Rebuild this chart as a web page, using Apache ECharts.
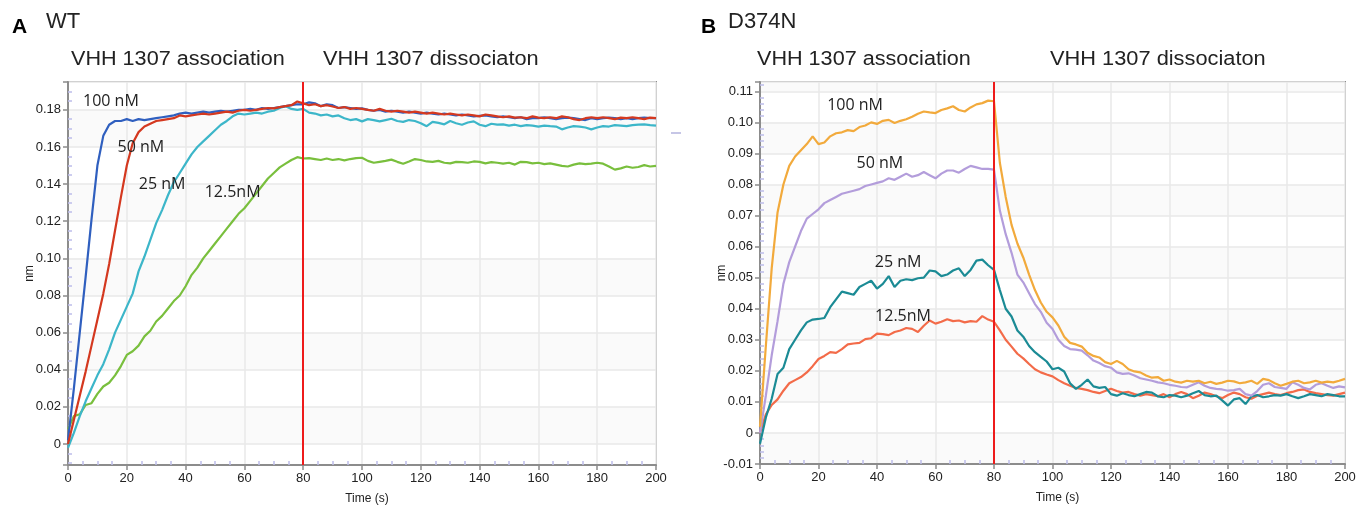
<!DOCTYPE html>
<html>
<head>
<meta charset="utf-8">
<script src="https://cdn.jsdelivr.net/npm/echarts@6/dist/echarts.min.js"></script>
<style>
html,body{margin:0;padding:0;background:#ffffff;}
#chart{width:1359px;height:508px;}
</style>
</head>
<body>
<div id="chart"></div>
<script>
// ---------- DATA ----------
const time = [0,2,4,6,8,10,12,14,16,18,20,22,24,26,28,30,32,34,36,38,40,42,44,46,48,50,52,54,56,58,60,62,64,66,68,70,72,74,76,78,80,82,84,86,88,90,92,94,96,98,100,102,104,106,108,110,112,114,116,118,120,122,124,126,128,130,132,134,136,138,140,142,144,146,148,150,152,154,156,158,160,162,164,166,168,170,172,174,176,178,180,182,184,186,188,190,192,194,196,198,200];

const switchTime = 80;

const panelATitle = 'WT';
const panelBTitle = 'D374N';
const phaseLabels = ['VHH 1307 association', 'VHH 1307 dissociaton'];
const concLabels = ['100 nM', '50 nM', '25 nM', '12.5nM'];
const xAxisName = 'Time (s)';
const yAxisName = 'nm';

// Panel A (WT)
const wt100 = [0.002,0.030,0.060,0.090,0.121,0.150,0.166,0.172,0.174,0.174,0.175,0.174,0.175,0.1745,0.175,0.1755,0.176,0.1765,0.177,0.178,0.1785,0.178,0.1785,0.179,0.1785,0.179,0.1795,0.179,0.1795,0.180,0.180,0.1805,0.180,0.181,0.1805,0.181,0.1815,0.182,0.1825,0.183,0.183,0.184,0.1835,0.182,0.183,0.1825,0.181,0.1815,0.181,0.1805,0.1808,0.180,0.1795,0.180,0.179,0.1795,0.179,0.1785,0.179,0.1785,0.178,0.1785,0.178,0.1775,0.178,0.1775,0.177,0.1775,0.177,0.1765,0.1768,0.177,0.1765,0.176,0.1765,0.176,0.1755,0.176,0.175,0.1755,0.1755,0.176,0.1755,0.175,0.1755,0.1758,0.1755,0.175,0.1745,0.1755,0.175,0.1755,0.1758,0.1755,0.175,0.1755,0.175,0.1755,0.1758,0.1755,0.1755];
const wt50 = [0.000,0.013,0.026,0.039,0.053,0.067,0.081,0.097,0.115,0.133,0.150,0.162,0.168,0.171,0.1725,0.174,0.1745,0.175,0.1755,0.177,0.1765,0.177,0.1775,0.178,0.1775,0.178,0.1785,0.179,0.1785,0.1795,0.180,0.1795,0.180,0.1805,0.181,0.1808,0.1815,0.182,0.1825,0.1845,0.1835,0.1825,0.183,0.182,0.1825,0.1818,0.181,0.1815,0.1805,0.181,0.1805,0.180,0.1795,0.1805,0.1795,0.179,0.1795,0.179,0.1785,0.179,0.1785,0.178,0.1785,0.178,0.1775,0.178,0.1775,0.177,0.1775,0.177,0.1765,0.1775,0.177,0.1765,0.176,0.1765,0.1758,0.176,0.1755,0.1765,0.1758,0.1755,0.176,0.1755,0.1765,0.176,0.175,0.1745,0.1755,0.176,0.1755,0.176,0.1755,0.175,0.1758,0.1755,0.176,0.1755,0.175,0.1758,0.1755];
const wt25 = [-0.002,0.006,0.015,0.023,0.030,0.037,0.043,0.051,0.060,0.067,0.074,0.081,0.093,0.101,0.110,0.119,0.126,0.134,0.141,0.146,0.151,0.156,0.160,0.163,0.166,0.169,0.172,0.174,0.1765,0.178,0.1775,0.178,0.1785,0.178,0.179,0.1795,0.181,0.182,0.1805,0.180,0.1805,0.1785,0.178,0.177,0.1775,0.1765,0.177,0.1755,0.1745,0.175,0.1738,0.175,0.1745,0.1738,0.1745,0.1752,0.174,0.1735,0.1745,0.174,0.1728,0.1712,0.1735,0.173,0.1722,0.174,0.1728,0.172,0.1732,0.1738,0.172,0.1712,0.1725,0.172,0.1722,0.1715,0.172,0.1712,0.1718,0.1715,0.171,0.1715,0.1712,0.171,0.1695,0.1705,0.1712,0.171,0.1705,0.1695,0.1705,0.1712,0.171,0.1718,0.1715,0.1712,0.1718,0.172,0.1722,0.1718,0.1715];
const wt12 = [0.008,0.015,0.016,0.021,0.022,0.027,0.031,0.033,0.037,0.042,0.048,0.050,0.053,0.058,0.061,0.066,0.069,0.073,0.077,0.080,0.085,0.091,0.095,0.100,0.104,0.108,0.112,0.116,0.120,0.124,0.127,0.131,0.135,0.139,0.143,0.146,0.149,0.151,0.153,0.1545,0.1538,0.154,0.1535,0.153,0.1538,0.153,0.1535,0.1528,0.1535,0.154,0.1542,0.1525,0.1515,0.152,0.1525,0.1532,0.152,0.151,0.1522,0.1535,0.153,0.1522,0.152,0.1525,0.1515,0.1512,0.152,0.1518,0.1515,0.1522,0.152,0.1512,0.1518,0.1515,0.151,0.1515,0.1505,0.152,0.1518,0.1512,0.1515,0.1508,0.1512,0.1505,0.1498,0.1495,0.1505,0.1512,0.1508,0.151,0.1515,0.151,0.1495,0.1478,0.1485,0.1495,0.1488,0.1492,0.1502,0.1495,0.1498];

// Panel B (D374N)
const d100 = [0.002,0.028,0.053,0.071,0.080,0.086,0.089,0.091,0.093,0.0955,0.093,0.0935,0.0955,0.0965,0.0968,0.0975,0.0972,0.0985,0.099,0.100,0.0995,0.1005,0.1008,0.0998,0.1005,0.101,0.1018,0.1028,0.1035,0.1032,0.103,0.104,0.1045,0.1052,0.104,0.1035,0.1048,0.1058,0.1062,0.107,0.1068,0.087,0.076,0.067,0.061,0.0565,0.051,0.046,0.042,0.039,0.0372,0.0346,0.031,0.029,0.0285,0.0278,0.0258,0.0248,0.0243,0.0228,0.0222,0.0232,0.0222,0.0205,0.0198,0.0195,0.0185,0.0178,0.018,0.0168,0.0172,0.0165,0.0162,0.0168,0.0165,0.0168,0.016,0.0165,0.0158,0.0162,0.0168,0.0166,0.016,0.0163,0.0168,0.0158,0.0174,0.017,0.016,0.0152,0.0158,0.0165,0.0168,0.016,0.0163,0.0168,0.0162,0.0165,0.0163,0.0168,0.0174];
const d50 = [0.000,0.012,0.025,0.036,0.048,0.055,0.060,0.065,0.069,0.0705,0.072,0.074,0.075,0.076,0.077,0.0775,0.078,0.0785,0.0795,0.080,0.0805,0.081,0.082,0.0815,0.0825,0.0835,0.0825,0.083,0.084,0.083,0.082,0.0835,0.0845,0.0845,0.0838,0.085,0.086,0.0855,0.085,0.085,0.0848,0.0716,0.064,0.058,0.051,0.0485,0.045,0.0415,0.039,0.0355,0.0335,0.030,0.028,0.027,0.0268,0.0265,0.025,0.0233,0.0225,0.0215,0.021,0.0195,0.019,0.0192,0.0185,0.0176,0.0172,0.0168,0.0163,0.016,0.0155,0.0152,0.0148,0.0147,0.0155,0.0163,0.0152,0.0145,0.0142,0.014,0.0136,0.0138,0.0142,0.0125,0.012,0.0135,0.0155,0.016,0.0148,0.0145,0.0142,0.0163,0.0155,0.0145,0.014,0.0155,0.016,0.0152,0.0145,0.015,0.0147];
const d25 = [-0.0035,0.005,0.011,0.019,0.021,0.027,0.030,0.033,0.0356,0.0365,0.0367,0.037,0.0405,0.043,0.0455,0.045,0.0445,0.047,0.048,0.049,0.0465,0.048,0.0505,0.047,0.049,0.0495,0.0492,0.0498,0.050,0.0523,0.052,0.0505,0.051,0.0523,0.053,0.0505,0.0525,0.0555,0.0558,0.054,0.0525,0.046,0.040,0.0375,0.033,0.031,0.028,0.026,0.0245,0.023,0.0205,0.021,0.0198,0.016,0.0142,0.0155,0.0172,0.015,0.0145,0.0148,0.0125,0.012,0.0128,0.0122,0.0118,0.0125,0.0132,0.013,0.0118,0.0115,0.0122,0.012,0.0115,0.012,0.0128,0.0135,0.0122,0.0118,0.012,0.0105,0.0088,0.0108,0.0112,0.0093,0.0118,0.0122,0.0115,0.0118,0.0122,0.012,0.0125,0.0118,0.0112,0.0118,0.0125,0.0122,0.0118,0.0125,0.0122,0.0118,0.0118];
const d12 = [0.000,0.006,0.009,0.0108,0.0136,0.016,0.017,0.018,0.0195,0.0215,0.0238,0.0248,0.026,0.0258,0.027,0.0285,0.0288,0.029,0.0302,0.0305,0.032,0.0318,0.0315,0.0325,0.033,0.0338,0.0335,0.0325,0.0345,0.0362,0.0352,0.0358,0.0366,0.036,0.0362,0.0356,0.036,0.0358,0.0376,0.0365,0.0358,0.033,0.030,0.0278,0.0255,0.024,0.0222,0.0205,0.0195,0.0188,0.0182,0.017,0.016,0.0152,0.0145,0.0142,0.0138,0.0132,0.0128,0.0135,0.0142,0.0135,0.013,0.0132,0.0125,0.012,0.0125,0.0122,0.0118,0.0125,0.0115,0.0125,0.0132,0.0125,0.0112,0.012,0.013,0.0125,0.0118,0.0112,0.0122,0.013,0.0125,0.0115,0.011,0.012,0.0125,0.013,0.0125,0.0122,0.0128,0.0132,0.0138,0.014,0.0132,0.0128,0.0125,0.0122,0.012,0.0125,0.013];

// ---------- CHART ----------
const pairs = arr => time.map((t, i) => [t, arr[i]]);

const AX = '#8c8c8c';
const MINOR = '#bdbdea';
const TXT = '#222222';
const SANS = '"Liberation Sans", Arial, sans-serif';
const LBLFONT = '"Open Sans", "Noto Sans", sans-serif';

function isMult(v, step) {
  const r = v / step;
  return Math.abs(r - Math.round(r)) < 1e-6;
}
function yFmt(step) {
  return function (v) {
    if (!isMult(v, step)) return '';
    if (Math.abs(v) < 1e-9) return '0';
    return v.toFixed(2);
  };
}

function mainX(gi) {
  return {
    gridIndex: gi, type: 'value', min: 0, max: 200, interval: 20, position: 'bottom',
    name: xAxisName, nameLocation: 'middle', nameGap: 28,
    nameTextStyle: { color: TXT, fontSize: 12, fontFamily: SANS, padding: [0, 0, 0, 10] },
    axisLine: { show: true, onZero: false, lineStyle: { color: AX, width: 2 } },
    axisTick: { show: true, inside: false, length: 5, lineStyle: { color: AX, width: 1.5 } },
    axisLabel: { color: TXT, fontSize: 13, fontFamily: SANS, margin: 7 },
    splitLine: { show: true, lineStyle: { color: '#e8e8e8', width: 1.5 } },
    minorTick: { show: false }
  };
}
function minorX(gi) {
  return {
    gridIndex: gi, type: 'value', min: 0, max: 200, interval: 20, position: 'bottom',
    axisLine: { show: false, onZero: false },
    axisTick: { show: false, inside: true },
    axisLabel: { show: false },
    splitLine: { show: false },
    minorTick: { show: true, splitNumber: 4, length: 4, lineStyle: { color: MINOR, width: 1.5 } }
  };
}
function mainY(gi, min, max, step, split, bands) {
  return {
    gridIndex: gi, type: 'value', min: min, max: max, minInterval: step, maxInterval: step, splitNumber: split,
    position: 'left',
    name: yAxisName, nameLocation: 'middle', nameGap: 32, nameMoveOverlap: false,
    nameTextStyle: { color: TXT, fontSize: 12, fontFamily: SANS },
    axisLine: { show: true, onZero: false, lineStyle: { color: AX, width: 2 } },
    axisTick: { show: true, inside: false, length: 5, lineStyle: { color: AX, width: 1.5 } },
    axisLabel: { color: TXT, fontSize: 13, fontFamily: SANS, margin: 7, formatter: yFmt(step), showMinLabel: true, showMaxLabel: true },
    splitLine: { show: true, lineStyle: { color: '#e8e8e8', width: 1.5 } },
    splitArea: { show: true, areaStyle: { color: bands } }
  };
}
function minorY(gi, min, max, step, split, minorSplit) {
  return {
    gridIndex: gi, type: 'value', min: min, max: max, minInterval: step, maxInterval: step, splitNumber: split,
    position: 'left',
    axisLine: { show: false, onZero: false },
    axisTick: { show: false, inside: true },
    axisLabel: { show: false },
    splitLine: { show: false },
    minorTick: { show: true, splitNumber: minorSplit, length: 4, lineStyle: { color: MINOR, width: 1.5 } }
  };
}

function lineSeries(name, arr, color, xi, yi, labelCoord) {
  return {
    name: name, type: 'line', xAxisIndex: xi, yAxisIndex: yi,
    data: pairs(arr), showSymbol: false, symbol: 'none', smooth: false,
    lineStyle: { color: color, width: 2.2 }, itemStyle: { color: color },
    animation: false, silent: true,
    markPoint: {
      symbol: 'circle', symbolSize: 0, silent: true, animation: false,
      label: { show: true, position: 'inside', formatter: name, color: TXT, fontSize: 16, fontFamily: LBLFONT },
      data: [{ coord: labelCoord }]
    }
  };
}
function switchLine(xi, yi) {
  return {
    type: 'line', xAxisIndex: xi, yAxisIndex: yi, data: [], silent: true, animation: false,
    markLine: {
      symbol: ['none', 'none'], silent: true, animation: false,
      label: { show: false },
      lineStyle: { color: '#ee1b1b', width: 2, type: 'solid' },
      data: [{ xAxis: switchTime }]
    }
  };
}

function titleText(x, y, text, font, fill, sx) {
  return { type: 'text', x: x, y: y, scaleX: sx, style: { text: text, font: font, fill: fill, textVerticalAlign: 'middle' } };
}

const chart = echarts.init(document.getElementById('chart'), null, { renderer: 'canvas' });

const option = {
  backgroundColor: '#ffffff',
  animation: false,
  grid: [
    { left: 68, top: 82, right: 703, bottom: 43, show: true, borderColor: AX, borderWidth: 2, backgroundColor: 'transparent', containLabel: false, outerBoundsMode: 'none' },
    { left: 760, top: 82, right: 14, bottom: 44, show: true, borderColor: AX, borderWidth: 2, backgroundColor: 'transparent', containLabel: false, outerBoundsMode: 'none' }
  ],
  xAxis: [mainX(0), minorX(0), mainX(1), minorX(1)],
  yAxis: [
    mainY(0, -0.0113, 0.195, 0.02, 10, ['#ffffff', '#fafafa']),
    minorY(0, -0.0113, 0.195, 0.02, 10, 4),
    mainY(1, -0.01, 0.113, 0.01, 12, ['#fafafa', '#ffffff']),
    minorY(1, -0.01, 0.113, 0.01, 12, 5)
  ],
  series: [
    lineSeries(concLabels[3], wt12, '#79bf3d', 0, 0, [56, 0.1353]),
    lineSeries(concLabels[2], wt25, '#3cb6c9', 0, 0, [32, 0.1396]),
    lineSeries(concLabels[0], wt100, '#2f5fbf', 0, 0, [14.6, 0.1844]),
    lineSeries(concLabels[1], wt50, '#d4381f', 0, 0, [24.8, 0.1596]),
    switchLine(0, 0),
    lineSeries(concLabels[3], d12, '#f36b49', 2, 2, [48.9, 0.0374]),
    lineSeries(concLabels[2], d25, '#1b8b95', 2, 2, [47.2, 0.0549]),
    lineSeries(concLabels[1], d50, '#b39ddb', 2, 2, [41, 0.0867]),
    lineSeries(concLabels[0], d100, '#f2aa3c', 2, 2, [32.5, 0.1054]),
    switchLine(2, 2)
  ],
  graphic: [
    titleText(12, 27, 'A', 'bold 21px ' + SANS, '#000', 1),
    titleText(46, 22, panelATitle, '22px ' + SANS, TXT, 1),
    titleText(701, 27, 'B', 'bold 21px ' + SANS, '#000', 1),
    titleText(728, 22, panelBTitle, '22px ' + SANS, TXT, 1),
    titleText(71, 59, phaseLabels[0], '20px ' + SANS, TXT, 1.08),
    titleText(323, 59, phaseLabels[1], '20px ' + SANS, TXT, 1.09),
    titleText(757, 59, phaseLabels[0], '20px ' + SANS, TXT, 1.08),
    titleText(1050, 59, phaseLabels[1], '20px ' + SANS, TXT, 1.09),
    { type: 'line', shape: { x1: 671, y1: 133, x2: 681, y2: 133 }, style: { stroke: '#c6c6e6', lineWidth: 2 } }
  ]
};

chart.setOption(option);
</script>
</body>
</html>
